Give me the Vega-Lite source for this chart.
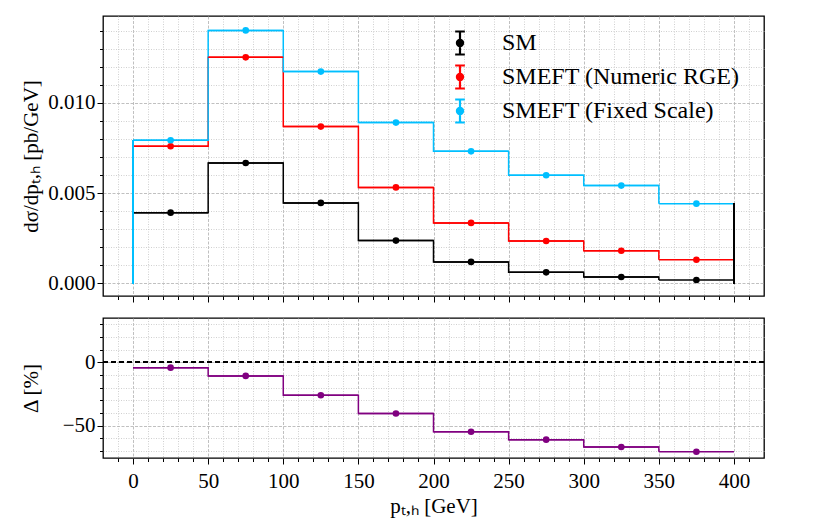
{
  "$schema": "https://vega.github.io/schema/vega-lite/v6.json",
  "background": "white",
  "padding": {"left": 19, "top": 15, "right": 66, "bottom": 2},
  "spacing": 8,
  "datasets": {
    "hist": [
      {"lo": 0, "hi": 50, "c": 25, "series": "SM", "v": 0.00392},
      {"lo": 50, "hi": 100, "c": 75, "series": "SM", "v": 0.00667},
      {"lo": 100, "hi": 150, "c": 125, "series": "SM", "v": 0.00446},
      {"lo": 150, "hi": 200, "c": 175, "series": "SM", "v": 0.00237},
      {"lo": 200, "hi": 250, "c": 225, "series": "SM", "v": 0.00119},
      {"lo": 250, "hi": 300, "c": 275, "series": "SM", "v": 0.00061},
      {"lo": 300, "hi": 350, "c": 325, "series": "SM", "v": 0.00035},
      {"lo": 350, "hi": 400, "c": 375, "series": "SM", "v": 0.00019},
      {"lo": 0, "hi": 50, "c": 25, "series": "SMEFT (Numeric RGE)", "v": 0.0076},
      {"lo": 50, "hi": 100, "c": 75, "series": "SMEFT (Numeric RGE)", "v": 0.01253},
      {"lo": 100, "hi": 150, "c": 125, "series": "SMEFT (Numeric RGE)", "v": 0.00869},
      {"lo": 150, "hi": 200, "c": 175, "series": "SMEFT (Numeric RGE)", "v": 0.00532},
      {"lo": 200, "hi": 250, "c": 225, "series": "SMEFT (Numeric RGE)", "v": 0.00335},
      {"lo": 250, "hi": 300, "c": 275, "series": "SMEFT (Numeric RGE)", "v": 0.00235},
      {"lo": 300, "hi": 350, "c": 325, "series": "SMEFT (Numeric RGE)", "v": 0.00181},
      {"lo": 350, "hi": 400, "c": 375, "series": "SMEFT (Numeric RGE)", "v": 0.00131},
      {"lo": 0, "hi": 50, "c": 25, "series": "SMEFT (Fixed Scale)", "v": 0.00793},
      {"lo": 50, "hi": 100, "c": 75, "series": "SMEFT (Fixed Scale)", "v": 0.01402},
      {"lo": 100, "hi": 150, "c": 125, "series": "SMEFT (Fixed Scale)", "v": 0.01174},
      {"lo": 150, "hi": 200, "c": 175, "series": "SMEFT (Fixed Scale)", "v": 0.00891},
      {"lo": 200, "hi": 250, "c": 225, "series": "SMEFT (Fixed Scale)", "v": 0.00732},
      {"lo": 250, "hi": 300, "c": 275, "series": "SMEFT (Fixed Scale)", "v": 0.00599},
      {"lo": 300, "hi": 350, "c": 325, "series": "SMEFT (Fixed Scale)", "v": 0.00542},
      {"lo": 350, "hi": 400, "c": 375, "series": "SMEFT (Fixed Scale)", "v": 0.00442}
    ],
    "delta": [
      {"lo": 0, "hi": 50, "c": 25, "d": -4.2},
      {"lo": 50, "hi": 100, "c": 75, "d": -10.7},
      {"lo": 100, "hi": 150, "c": 125, "d": -26},
      {"lo": 150, "hi": 200, "c": 175, "d": -40.4},
      {"lo": 200, "hi": 250, "c": 225, "d": -54.8},
      {"lo": 250, "hi": 300, "c": 275, "d": -61},
      {"lo": 300, "hi": 350, "c": 325, "d": -66.8},
      {"lo": 350, "hi": 400, "c": 375, "d": -70.6}
    ]
  },
  "vconcat": [
    {
      "width": 661,
      "height": 280,
      "data": {"name": "hist"},
      "layer": [
        {
          "mark": {"type": "line", "interpolate": "step-after", "strokeWidth": 1.5},
          "encoding": {
            "x": {
              "field": "lo", "type": "quantitative",
              "scale": {"domain": [-20, 420], "nice": false, "zero": false},
              "axis": {
                "labels": false, "title": null, "tickCount": 200,
                "values": [-10, 0, 10, 20, 30, 40, 50, 60, 70, 80, 90, 100, 110, 120, 130, 140, 150, 160, 170, 180, 190, 200, 210, 220, 230, 240, 250, 260, 270, 280, 290, 300, 310, 320, 330, 340, 350, 360, 370, 380, 390, 400, 410],
                "tickSize": {"condition": {"test": "datum.value % 50 === 0", "value": 6}, "value": 3.5},
                "gridDash": {"condition": {"test": "datum.value % 50 === 0", "value": [3, 1.5]}, "value": [1, 1.5]},
                "gridColor": {"condition": {"test": "datum.value % 50 === 0", "value": "#b0b0b0"}, "value": "#c4c4c4"}
              }
            },
            "y": {
              "field": "v", "type": "quantitative",
              "scale": {"domain": [-0.0007, 0.01482], "nice": false, "zero": false},
              "axis": {
                "title": "dσ/dpₜ,ₕ [pb/GeV]", "tickCount": 200,
                "values": [0, 0.001, 0.002, 0.003, 0.004, 0.005, 0.006, 0.007, 0.008, 0.009, 0.01, 0.011, 0.012, 0.013, 0.014],
                "format": ".3f",
                "labelExpr": "round(datum.value * 1000) % 5 === 0 ? datum.label : ''",
                "labelOverlap": false,
                "titlePadding": 6,
                "tickSize": {"condition": {"test": "round(datum.value * 1000) % 5 === 0", "value": 6}, "value": 3.5},
                "gridDash": {"condition": {"test": "round(datum.value * 1000) % 5 === 0", "value": [3, 1.5]}, "value": [1, 1.5]},
                "gridColor": {"condition": {"test": "round(datum.value * 1000) % 5 === 0", "value": "#b0b0b0"}, "value": "#c4c4c4"}
              }
            },
            "color": {"field": "series", "type": "nominal", "title": null,
              "scale": {"domain": ["SM", "SMEFT (Numeric RGE)", "SMEFT (Fixed Scale)"], "range": ["black", "#ff0000", "#00bfff"]},
              "legend": {
                "orient": "none", "legendX": 344, "legendY": 14,
                "symbolType": "M-0.42,-1L0.42,-1M0,-1L0,1M-0.42,1L0.42,1M0.27,0A0.27,0.27,0,1,1,-0.27,0A0.27,0.27,0,1,1,0.27,0Z",
                "symbolSize": 529, "symbolStrokeWidth": 2.2, "symbolOpacity": 1,
                "labelFontSize": 24, "labelFont": "Liberation Serif", "labelColor": "black",
                "labelOffset": 29, "rowPadding": 2, "labelLimit": 400
              }}
          }
        },
        {
          "mark": {"type": "rule", "strokeWidth": 1.5},
          "encoding": {
            "x": {"field": "lo", "type": "quantitative"},
            "x2": {"field": "hi"},
            "y": {"field": "v", "type": "quantitative"},
            "color": {"field": "series", "type": "nominal"}
          }
        },
        {
          "mark": {"type": "rule", "strokeWidth": 1.5, "color": "#00bfff"},
          "encoding": {
            "x": {"datum": 0, "type": "quantitative"},
            "y": {"datum": 0, "type": "quantitative"},
            "y2": {"datum": 0.00793}
          }
        },
        {
          "mark": {"type": "rule", "strokeWidth": 1.5, "color": "black"},
          "encoding": {
            "x": {"datum": 400, "type": "quantitative"},
            "y": {"datum": 0, "type": "quantitative"},
            "y2": {"datum": 0.00442}
          }
        },
        {
          "mark": {"type": "point", "filled": true, "size": 44, "opacity": 1},
          "encoding": {
            "x": {"field": "c", "type": "quantitative"},
            "y": {"field": "v", "type": "quantitative"},
            "color": {"field": "series", "type": "nominal"}
          }
        }
      ]
    },
    {
      "width": 661,
      "height": 140,
      "data": {"name": "delta"},
      "layer": [
        {
          "mark": {"type": "rule", "strokeWidth": 1.5, "color": "black", "strokeDash": [5, 3]},
          "encoding": {
            "y": {"datum": 0, "type": "quantitative"}
          }
        },
        {
          "mark": {"type": "line", "interpolate": "step-after", "strokeWidth": 1.5, "color": "#800080"},
          "encoding": {
            "x": {
              "field": "lo", "type": "quantitative",
              "scale": {"domain": [-20, 420], "nice": false, "zero": false},
              "axis": {
                "title": "pₜ,ₕ [GeV]", "tickCount": 200,
                "values": [-10, 0, 10, 20, 30, 40, 50, 60, 70, 80, 90, 100, 110, 120, 130, 140, 150, 160, 170, 180, 190, 200, 210, 220, 230, 240, 250, 260, 270, 280, 290, 300, 310, 320, 330, 340, 350, 360, 370, 380, 390, 400, 410],
                "format": "d",
                "labelExpr": "datum.value % 50 === 0 ? datum.label : ''",
                "labelOverlap": false, "labelFlush": false, "labelPadding": 6,
                "titlePadding": 4,
                "tickSize": {"condition": {"test": "datum.value % 50 === 0", "value": 6}, "value": 3.5},
                "gridDash": {"condition": {"test": "datum.value % 50 === 0", "value": [3, 1.5]}, "value": [1, 1.5]},
                "gridColor": {"condition": {"test": "datum.value % 50 === 0", "value": "#b0b0b0"}, "value": "#c4c4c4"}
              }
            },
            "y": {
              "field": "d", "type": "quantitative",
              "scale": {"domain": [-75.5, 35], "nice": false, "zero": false},
              "axis": {
                "title": "Δ  [%]", "tickCount": 200,
                "values": [-70, -60, -50, -40, -30, -20, -10, 0, 10, 20, 30],
                "format": "d",
                "labelExpr": "datum.value % 50 === 0 ? datum.label : ''",
                "labelOverlap": false,
                "titlePadding": 21,
                "tickSize": {"condition": {"test": "datum.value % 50 === 0", "value": 6}, "value": 3.5},
                "gridDash": {"condition": {"test": "datum.value % 50 === 0", "value": [3, 1.5]}, "value": [1, 1.5]},
                "gridColor": {"condition": {"test": "datum.value % 50 === 0", "value": "#b0b0b0"}, "value": "#c4c4c4"}
              }
            }
          }
        },
        {
          "mark": {"type": "rule", "strokeWidth": 1.5, "color": "#800080"},
          "encoding": {
            "x": {"field": "lo", "type": "quantitative"},
            "x2": {"field": "hi"},
            "y": {"field": "d", "type": "quantitative"}
          }
        },
        {
          "mark": {"type": "point", "filled": true, "size": 44, "color": "#800080", "opacity": 1},
          "encoding": {
            "x": {"field": "c", "type": "quantitative"},
            "y": {"field": "d", "type": "quantitative"}
          }
        }
      ]
    }
  ],
  "config": {
    "font": "Liberation Serif",
    "view": {"stroke": "black", "strokeWidth": 1.3},
    "axis": {
      "labelFont": "Liberation Serif", "labelFontSize": 21, "labelColor": "black",
      "titleFont": "Liberation Serif", "titleFontSize": 21, "titleFontWeight": "normal", "titleColor": "black",
      "domain": false, "tickColor": "black", "tickWidth": 1, "grid": true, "gridWidth": 0.8, "gridOpacity": 1
    },
    "legend": {"titleFont": "Liberation Serif"}
  }
}
